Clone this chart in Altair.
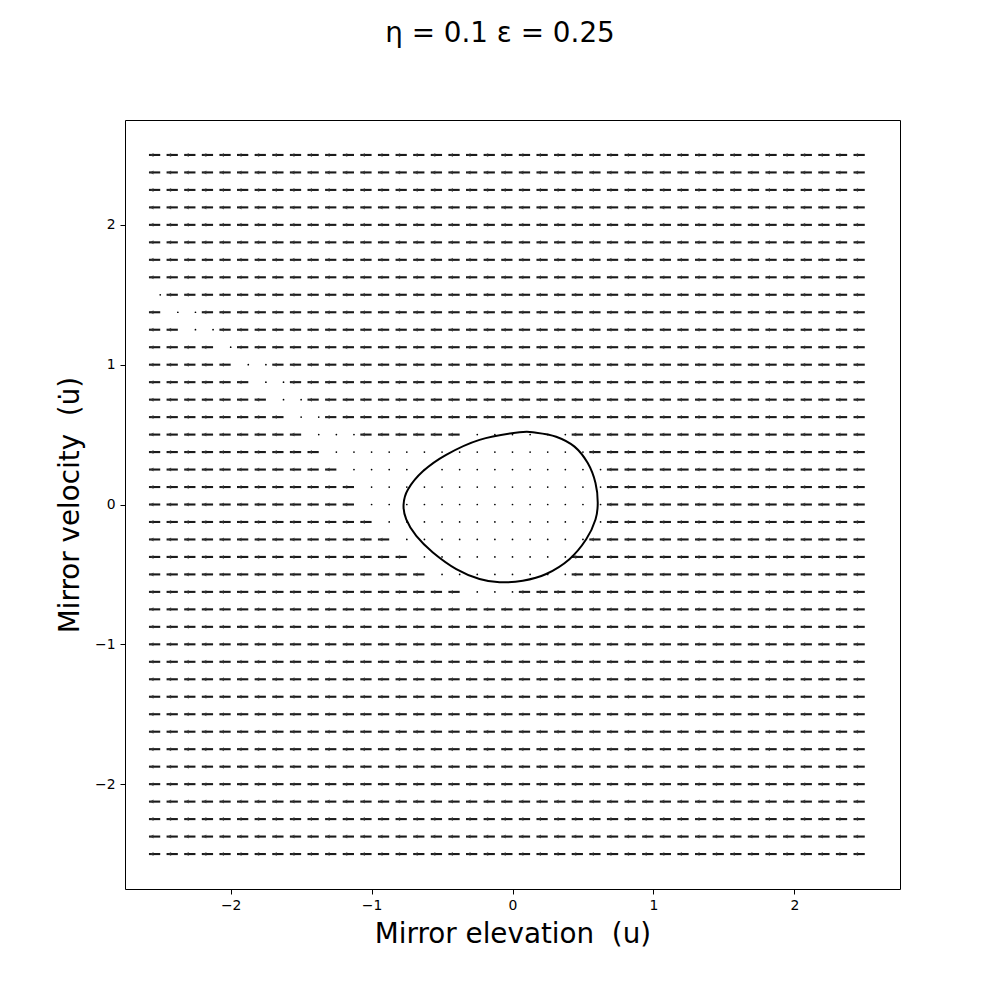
import altair as alt
import pandas as pd

# grid of the quiver (u and u-dot), 41 x 41, step 0.125
grid = [-2.5, -2.375, -2.25, -2.125, -2.0, -1.875, -1.75, -1.625, -1.5, -1.375,
        -1.25, -1.125, -1.0, -0.875, -0.75, -0.625, -0.5, -0.375, -0.25, -0.125,
        0.0, 0.125, 0.25, 0.375, 0.5, 0.625, 0.75, 0.875, 1.0, 1.125, 1.25,
        1.375, 1.5, 1.625, 1.75, 1.875, 2.0, 2.125, 2.25, 2.375, 2.5]
rows_v = list(reversed(grid))  # row 0 = top (v = 2.5)

# grid cells whose arrow has (almost) zero length -> drawn as a dot
# row index -> list of (first column, last column)
dot_ranges = {
    8: [(0, 0)], 9: [(1, 2)], 10: [(2, 3)], 11: [(4, 4)], 12: [(5, 6)],
    13: [(6, 7)], 14: [(7, 8)], 15: [(8, 9)], 16: [(9, 11), (18, 23)],
    17: [(10, 24)], 18: [(11, 25)], 19: [(12, 25)], 20: [(12, 25)],
    21: [(13, 25)], 22: [(14, 24)], 23: [(15, 23)], 24: [(16, 23)],
    25: [(18, 20)],
}

# all visible arrows point towards -u with the same (normalised) length
arrow_len = 0.08

# limit cycle
cycle_u = [0.050, -0.234, -0.471, -0.636, -0.742, -0.773, -0.754, -0.683, -0.565,
           -0.399, -0.234, -0.092, 0.073, 0.239, 0.404, 0.523, 0.589, 0.605,
           0.589, 0.534, 0.440, 0.310, 0.168]
cycle_v = [0.517, 0.462, 0.355, 0.237, 0.107, 0.0, -0.107, -0.225, -0.343,
           -0.462, -0.533, -0.556, -0.545, -0.497, -0.391, -0.249, -0.107, 0.012,
           0.154, 0.296, 0.414, 0.485, 0.514]

arrows, dots = [], []
for r, v in enumerate(rows_v):
    ranges = dot_ranges.get(r, [])
    for c, u in enumerate(grid):
        if any(a <= c <= b for a, b in ranges):
            dots.append({"u": u, "v": v})
        else:
            arrows.append({"u": u, "v": v, "tip": u - arrow_len,
                           "head": u - arrow_len * 0.75})
arrows = pd.DataFrame(arrows)
dots = pd.DataFrame(dots)
cycle = pd.DataFrame({"u": cycle_u, "v": cycle_v, "o": list(range(len(cycle_u)))})

FONT = "DejaVu Sans"
dom = [-2.75, 2.75]
NB = "\u00a0"


def xenc(field):
    return alt.X(field, type="quantitative",
                 scale=alt.Scale(domain=dom, nice=False, zero=False),
                 axis=alt.Axis(values=[-2, -1, 0, 1, 2], format="d", grid=False,
                               domain=False, tickSize=5, tickWidth=1, tickColor="black",
                               labelFont=FONT, labelFontSize=13.9, labelColor="black",
                               labelPadding=4,
                               title="Mirror elevation " + NB + "(u)", titleFont=FONT,
                               titleFontSize=27.8, titleFontWeight="normal",
                               titleColor="black", titleX=387.5, titleY=53,
                               titleBaseline="alphabetic", titleAlign="center"))


def yenc(field):
    return alt.Y(field, type="quantitative",
                 scale=alt.Scale(domain=dom, nice=False, zero=False),
                 axis=alt.Axis(values=[-2, -1, 0, 1, 2], format="d", grid=False,
                               domain=False, tickSize=5, tickWidth=1, tickColor="black",
                               labelFont=FONT, labelFontSize=13.9, labelColor="black",
                               labelPadding=5,
                               title="Mirror velocity " + NB + "(u\u0307)", titleFont=FONT,
                               titleFontSize=27.8, titleFontWeight="normal",
                               titleColor="black", titleX=-47, titleY=384.5,
                               titleAngle=270, titleBaseline="alphabetic",
                               titleAlign="center"))


shafts = alt.Chart(arrows).mark_rule(color="#1a1a1a", strokeWidth=2.1).encode(
    x=xenc("u"), x2=alt.X2("tip"), y=yenc("v"))
heads = alt.Chart(arrows).mark_point(shape="triangle-left", filled=True, size=16,
                                     color="#333333", opacity=0.85).encode(
    x=xenc("head"), y=yenc("v"))
dotl = alt.Chart(dots).mark_circle(size=3, color="black", opacity=1).encode(
    x=xenc("u"), y=yenc("v"))
cyc = alt.Chart(cycle).mark_line(color="black", strokeWidth=2,
                                 interpolate="cardinal-closed").encode(
    x=xenc("u"), y=yenc("v"), order="o:Q")

chart = alt.layer(shafts, heads, dotl, cyc).properties(
    width=775, height=769,
    autosize=alt.AutoSizeParams(type="none"),
    padding={"left": 117, "top": 112, "right": 92, "bottom": 103},
    title=alt.TitleParams("\u03b7 = 0.1  \u03b5 = 0.25", font=FONT, fontSize=27.8,
                          fontWeight="normal", color="black", anchor="middle",
                          baseline="alphabetic", offset=50, dx=-12.5),
).configure_view(stroke="black", strokeWidth=1)

chart.save("out.html", embed_options={"renderer": "svg", "actions": False})
